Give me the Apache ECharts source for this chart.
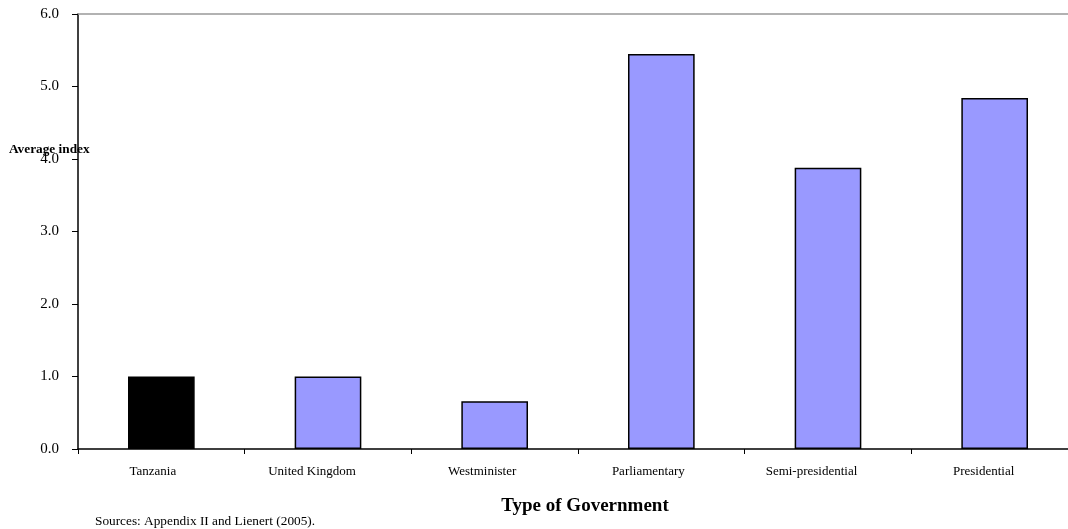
<!DOCTYPE html>
<html><head><meta charset="utf-8">
<script src="https://cdn.jsdelivr.net/npm/echarts@6/dist/echarts.min.js"></script>
<style>html,body{margin:0;padding:0;background:#fff}#c{width:1068px;height:529px}</style>
</head><body><div id="c"></div>
<script>
const categories = ['Tanzania','United Kingdom','Westminister','Parliamentary','Semi-presidential','Presidential'];
const values = [1.0, 1.0, 0.66, 5.45, 3.88, 4.84];
const barColors = ['#000000','#9999FF','#9999FF','#9999FF','#9999FF','#9999FF'];
const yTicks = [0,1,2,3,4,5,6];

const font = '"Liberation Serif", "Times New Roman", serif';
// label offset: original labels sit slightly left of band centre, proportional to their width
const ctx = document.createElement('canvas').getContext('2d');
ctx.font = '13px ' + font;
const rich = {};
categories.forEach((c, i) => {
  const w = ctx.measureText(c).width;
  rich['l' + i] = { fontFamily: font, fontSize: 13, color: '#000', padding: [0, Math.round(w * 0.36), 0, 0] };
});

const chart = echarts.init(document.getElementById('c'));
chart.setOption({
  animation: false,
  backgroundColor: '#fff',
  grid: { left: 78, right: -10, top: 14, bottom: 80, outerBoundsMode: 'none', containLabel: false },
  xAxis: [{
    type: 'category', data: categories,
    axisLine: { lineStyle: { color: '#000', width: 1.5 } },
    axisTick: { show: true, length: 5, lineStyle: { color: '#000' } },
    axisLabel: {
      color: '#000', fontFamily: font, fontSize: 13, margin: 16,
      formatter: (v, i) => '{l' + i + '|' + v + '}', rich: rich
    },
    splitLine: { show: false }
  }, {
    type: 'category', data: categories, position: 'top',
    axisLine: { show: true, lineStyle: { color: '#999', width: 1.5 } },
    axisTick: { show: false }, axisLabel: { show: false }
  }],
  yAxis: {
    type: 'value', min: 0, max: 6, interval: 1,
    axisLine: { show: true, lineStyle: { color: '#000', width: 1.5 } },
    axisTick: { show: true, inside: false, length: 6, lineStyle: { color: '#000' } },
    axisLabel: { color: '#000', fontFamily: font, fontSize: 15, margin: 19, formatter: v => v.toFixed(1) },
    splitLine: { show: false }
  },
  graphic: [
    { type: 'text', x: 9, y: 143, style: { text: 'Average index', font: 'bold 13.3px ' + font, fill: '#000' } },
    { type: 'text', x: 585, y: 506, style: { text: 'Type of Government', font: 'bold 19px ' + font, fill: '#000', align: 'center', verticalAlign: 'middle' } },
    { type: 'text', x: 95, y: 522, style: { text: 'Sources: Appendix II and Lienert (2005).', font: '13.3px ' + font, fill: '#000', verticalAlign: 'middle' } }
  ],
  series: [{
    type: 'bar',
    barWidth: '40%',
    data: values.map((v, i) => ({ value: v, itemStyle: { color: barColors[i] } })),
    itemStyle: { borderColor: '#000', borderWidth: 1.5 }
  }]
});
</script></body></html>
